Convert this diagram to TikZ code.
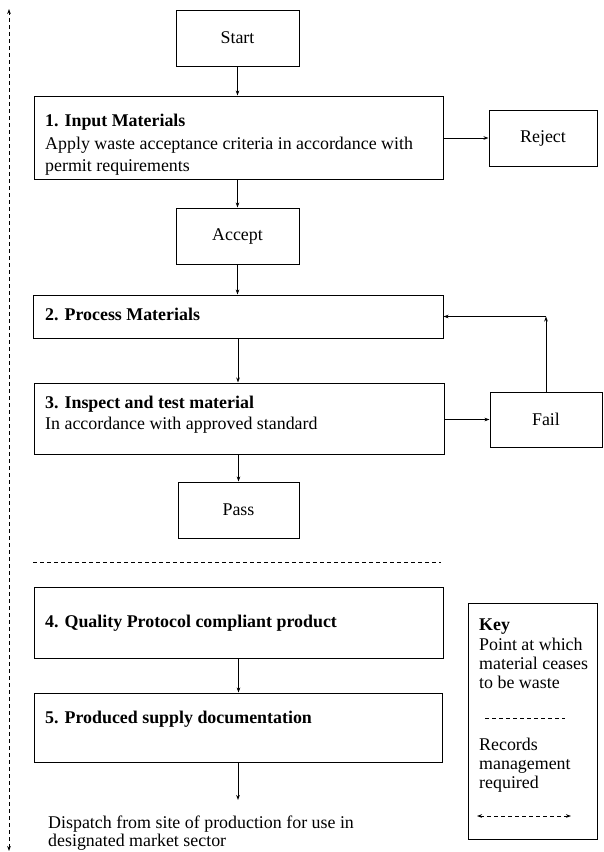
\documentclass[tikz,border=0pt]{standalone}
\usepackage{fontspec}
\setmainfont{Liberation Serif}
\usetikzlibrary{arrows.meta}
\begin{document}
\begin{tikzpicture}[x=1pt,y=-1pt,
  box/.style={draw,line width=1pt,inner sep=0pt,rectangle},
  txt/.style={anchor=base west,inner sep=0pt,font=\rmfamily\fontsize{17.9}{22}\selectfont},
  ctxt/.style={font=\rmfamily\fontsize{17.9}{22}\selectfont},
  arr/.style={line width=0.9pt,-{Stealth[length=5pt,width=3.6pt]}},
  dsh/.style={line width=0.9pt,dash pattern=on 4pt off 3pt}]
\useasboundingbox (0,0) rectangle (604,852);
% boxes
\node[box,ctxt,minimum width=123,minimum height=56] (start) at (237.5,38) {Start};
\node[box,minimum width=409,minimum height=83] (b1) at (238.5,137.5) {};
\node[box,ctxt,minimum width=108,minimum height=56] (reject) at (543,138) {Reject};
\node[box,ctxt,minimum width=123,minimum height=56] (accept) at (237.5,236) {Accept};
\node[box,minimum width=410,minimum height=43] (b2) at (238,316.5) {};
\node[box,minimum width=410,minimum height=71] (b3) at (239,418.5) {};
\node[box,ctxt,minimum width=112,minimum height=55] (fail) at (546,419.5) {Fail};
\node[box,ctxt,minimum width=121,minimum height=56] (pass) at (238.5,510) {Pass};
\node[box,minimum width=409,minimum height=71] (b4) at (238.5,622.5) {};
\node[box,minimum width=408,minimum height=69] (b5) at (238,727.5) {};
\node[box,minimum width=129,minimum height=236] (key) at (532.5,721) {};
% box texts
\node[txt] (t1a) at (45,126) {\bfseries 1. Input Materials};
\node[txt] (t1b) at (45,149) {Apply waste acceptance criteria in accordance with};
\node[txt] (t1c) at (45,171) {permit requirements};
\node[txt] (t2) at (45,320) {\bfseries 2. Process Materials};
\node[txt] (t3a) at (45,408) {\bfseries 3. Inspect and test material};
\node[txt] (t3b) at (45,429) {In accordance with approved standard};
\node[txt] (t4) at (45,627) {\bfseries 4. Quality Protocol compliant product};
\node[txt] (t5) at (45,723) {\bfseries 5. Produced supply documentation};
\node[txt] (d1) at (48,828) {Dispatch from site of production for use in};
\node[txt] (d2) at (48,846) {designated market sector};
% key texts
\node[txt] (k0) at (479,630) {\bfseries Key};
\node[txt] (k1) at (479,650) {Point at which};
\node[txt] (k2) at (479,669) {material ceases};
\node[txt] (k3) at (479,688) {to be waste};
\node[txt] (k4) at (479,750) {Records};
\node[txt] (k5) at (479,769) {management};
\node[txt] (k6) at (479,788) {required};
% connectors
\draw[arr] (start.south) -- (start.south |- b1.north);
\draw[arr] (b1.east |- reject.west) -- (reject.west);
\draw[arr] (accept.north |- b1.south) -- (accept.north);
\draw[arr] (accept.south) -- (accept.south |- b2.north);
\draw[arr] (b2.south) -- (b2.south |- b3.north);
\draw[arr] (b3.east |- fail.west) -- (fail.west);
\coordinate (corner) at (fail.north |- b2.east);
\draw[arr] (fail.north) -- (corner);
\draw[arr] (corner) -- (b2.east);
\draw[arr] (pass.north |- b3.south) -- (pass.north);
\draw[arr] (b4.south) -- (b4.south |- b5.north);
\coordinate (dend) at (238,800);
\draw[arr] (b5.south) -- (dend);
% dashed cessation line
\coordinate (ll) at (33,562);
\coordinate (lr) at (441,562);
\draw[dsh] (ll) -- (lr);
% key samples
\coordinate (kl) at (485,718);
\coordinate (kr) at (565,718);
\draw[dsh] (kl) -- (kr);
\coordinate (kal) at (477,816);
\coordinate (kar) at (571,816);
\draw[dsh,{Stealth[length=5pt,width=3.6pt]}-{Stealth[length=5pt,width=3.6pt]}] (kal) -- (kar);
% left records arrow
\coordinate (lt) at (9,9);
\coordinate (lb) at (9,851);
\draw[dsh,{Stealth[length=5pt,width=3.6pt]}-{Stealth[length=5pt,width=3.6pt]}] (lb) -- (lt);
\end{tikzpicture}
\end{document}
